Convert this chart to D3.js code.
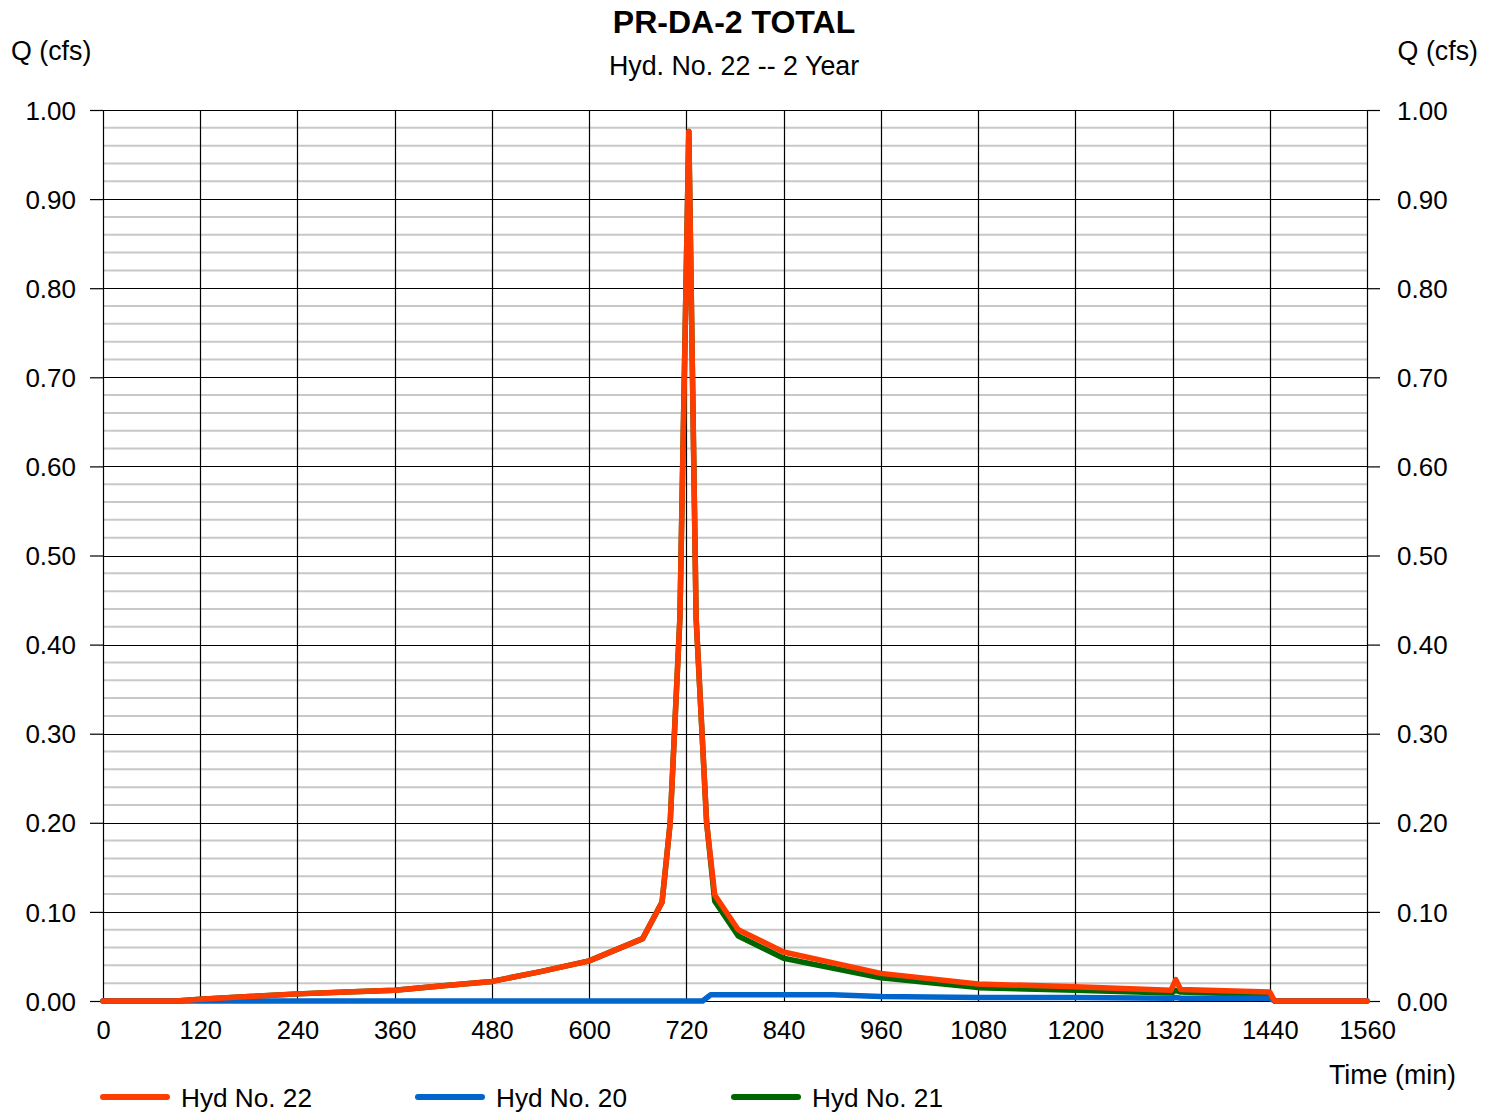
<!DOCTYPE html>
<html><head><meta charset="utf-8">
<script src="https://cdn.jsdelivr.net/npm/d3@7"></script>
<style>body{margin:0;background:#fff}svg{display:block;font-family:"Liberation Sans",Arial,sans-serif}</style>
</head><body>
<svg id="c" width="1496" height="1112"></svg>
<script>
// ---- data ----
const xTicks = [0,120,240,360,480,600,720,840,960,1080,1200,1320,1440,1560];
const yTicks = [0,0.1,0.2,0.3,0.4,0.5,0.6,0.7,0.8,0.9,1.0];
const hyd22T = [0,90,120,180,240,300,360,420,480,540,600,666,690,700,712,723,732,745,755,784,840,960,1080,1200,1318,1324,1330,1440,1446,1560];
const hyd22Q = [0,0,0.002,0.005,0.008,0.010,0.012,0.017,0.022,0.033,0.045,0.070,0.111,0.20,0.43,0.976,0.43,0.20,0.119,0.080,0.055,0.031,0.019,0.016,0.012,0.024,0.013,0.010,0,0];
const hyd20T = [0,740,750,900,960,1080,1200,1318,1324,1330,1440,1446,1560];
const hyd20Q = [0,0,0.007,0.007,0.005,0.004,0.004,0.003,0.004,0.003,0.003,0,0];
const hyd21T = [0,90,120,180,240,300,360,420,480,540,600,666,690,700,712,723,732,745,755,784,840,960,1080,1200,1318,1324,1330,1440,1446,1560];
const hyd21Q = [0,0,0.002,0.005,0.008,0.010,0.012,0.017,0.022,0.033,0.045,0.070,0.111,0.20,0.43,0.976,0.43,0.20,0.112,0.073,0.048,0.026,0.015,0.012,0.009,0.012,0.010,0.007,0,0];
const series = [
  {name:"Hyd No. 22", color:"#ff3c00", t:hyd22T, q:hyd22Q},
  {name:"Hyd No. 20", color:"#0066cc", t:hyd20T, q:hyd20Q},
  {name:"Hyd No. 21", color:"#006600", t:hyd21T, q:hyd21Q}
];

const svg = d3.select("#c");
const L=103, R=1367, T=110, B=1001;
const x = d3.scaleLinear().domain([0,1560]).range([L,R]);
const y = d3.scaleLinear().domain([0,1]).range([B,T]);

// minor grid
const minor = d3.range(0,1.0001,0.02).filter(v=>Math.abs(v*10-Math.round(v*10))>1e-6);
svg.append("g").selectAll("line").data(minor).join("line")
  .attr("x1",L).attr("x2",R).attr("y1",d=>y(d)).attr("y2",d=>y(d))
  .attr("stroke","#c8c8c8").attr("stroke-width",2);
// major horizontal grid
svg.append("g").selectAll("line").data(yTicks).join("line")
  .attr("x1",L).attr("x2",R).attr("y1",d=>Math.round(y(d))+0.5).attr("y2",d=>Math.round(y(d))+0.5)
  .attr("stroke","#000").attr("stroke-width",1.2);
// vertical grid
svg.append("g").selectAll("line").data(xTicks).join("line")
  .attr("x1",d=>Math.round(x(d))+0.5).attr("x2",d=>Math.round(x(d))+0.5).attr("y1",T).attr("y2",B)
  .attr("stroke","#000").attr("stroke-width",1.2);

// axes
const fmt = d3.format(".2f");
const la = svg.append("g").attr("transform",`translate(${L},0)`)
  .call(d3.axisLeft(y).tickValues(yTicks).tickFormat(fmt).tickSize(13).tickPadding(14));
const ra = svg.append("g").attr("transform",`translate(${R},0)`)
  .call(d3.axisRight(y).tickValues(yTicks).tickFormat(fmt).tickSize(13).tickPadding(17));
const ba = svg.append("g").attr("transform",`translate(0,${B})`)
  .call(d3.axisBottom(x).tickValues(xTicks).tickFormat(d3.format("d")).tickSize(0).tickPadding(20));
[la,ra,ba].forEach(g=>{
  g.select(".domain").remove();
  g.selectAll("text").attr("font-size",26).attr("fill","#000").attr("font-family",'"Liberation Sans",Arial,sans-serif');
  g.selectAll("line").attr("stroke","#000").attr("stroke-width",1.2);
});
ba.selectAll("text").attr("font-size",25.5);
la.selectAll("text").attr("dy","0.35em");
ra.selectAll("text").attr("dy","0.35em");

// lines
const line = d3.line().x(d=>x(d[0])).y(d=>y(d[1]));
const order = [series[2], series[1], series[0]];
svg.append("g").selectAll("path").data(order).join("path")
  .attr("d",s=>line(s.t.map((t,i)=>[t,s.q[i]])))
  .attr("fill","none").attr("stroke",s=>s.color).attr("stroke-width",5.5)
  .attr("stroke-linejoin","round").attr("stroke-linecap","round");

// titles
svg.append("text").attr("x",734).attr("y",33).attr("text-anchor","middle")
  .attr("font-size",32).attr("font-weight","bold").text("PR-DA-2 TOTAL");
svg.append("text").attr("x",734).attr("y",75).attr("text-anchor","middle")
  .attr("font-size",26.8).text("Hyd. No. 22 -- 2 Year");
svg.append("text").attr("x",11).attr("y",60).attr("font-size",26.8).text("Q (cfs)");
svg.append("text").attr("x",1478).attr("y",60).attr("text-anchor","end").attr("font-size",26.8).text("Q (cfs)");
svg.append("text").attr("x",1456).attr("y",1084).attr("text-anchor","end").attr("font-size",26.8).text("Time (min)");

// legend
const legX = [103, 418, 734];
const lg = svg.append("g").selectAll("g").data(series).join("g")
  .attr("transform",(d,i)=>`translate(${legX[i]},1097)`);
lg.append("line").attr("x1",0).attr("x2",64).attr("y1",0).attr("y2",0)
  .attr("stroke",d=>d.color).attr("stroke-width",6).attr("stroke-linecap","round");
lg.append("text").attr("x",78).attr("y",10).attr("font-size",26.2).text(d=>d.name);
</script>
</body></html>
